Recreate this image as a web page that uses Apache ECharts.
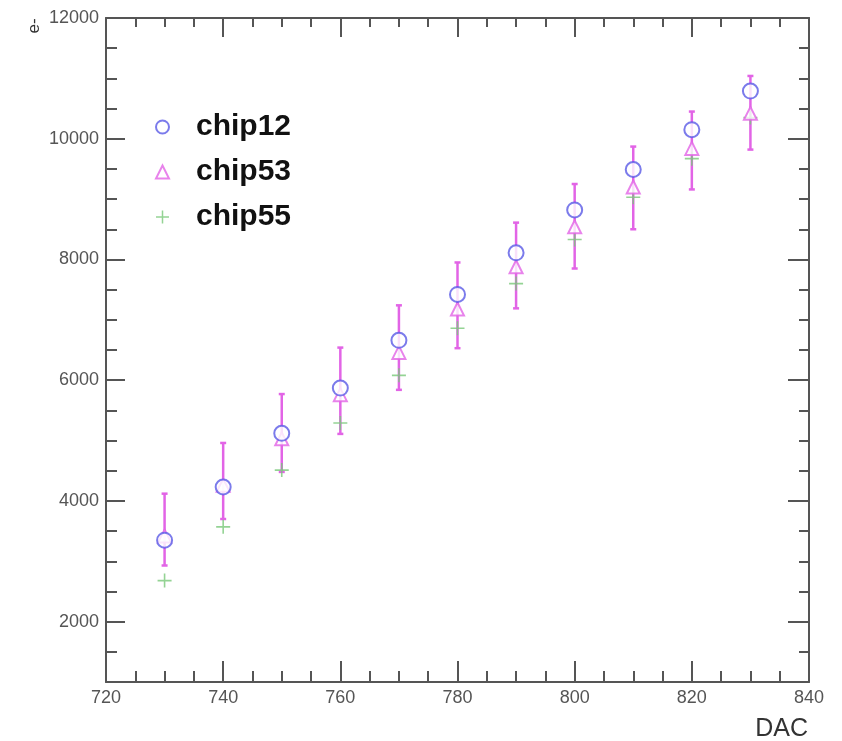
<!DOCTYPE html>
<html>
<head>
<meta charset="utf-8">
<script src="https://cdn.jsdelivr.net/npm/echarts@6/dist/echarts.min.js"></script>
<style>
html,body{margin:0;padding:0;background:#fff;}
#chart{width:842px;height:741px;}
</style>
</head>
<body>
<div id="chart"></div>
<script>
const dac = [730, 740, 750, 760, 770, 780, 790, 800, 810, 820, 830];
const chip12 = [3350, 4230, 5120, 5870, 6660, 7420, 8110, 8820, 9490, 10150, 10790];
const chip53 = [3420, 4260, 5030, 5760, 6460, 7180, 7880, 8540, 9200, 9840, 10420];
const chip53Low = [2930, 3700, 4480, 5110, 5840, 6530, 7190, 7850, 8500, 9160, 9820];
const chip53High = [4120, 4960, 5770, 6540, 7240, 7950, 8610, 9250, 9870, 10450, 11040];
const chip55 = [2680, 3570, 4510, 5290, 6080, 6860, 7600, 8330, 9030, 9670, 10350];
const xTicks = [720, 740, 760, 780, 800, 820, 840];
const yTicks = [2000, 4000, 6000, 8000, 10000, 12000];

const axisColor = '#555';
const labelColor = '#555';
const blue = '#5a5ae6';
const magenta = '#e264e6';
const green = '#79c879';
const fontFam = 'Liberation Sans, Arial, sans-serif';
const plusPath = 'path://M0,6.2L14,6.2L14,7.8L0,7.8Z M6.2,0L7.8,0L7.8,14L6.2,14Z';

const chart = echarts.init(document.getElementById('chart'), null, {renderer: 'canvas'});

function baseX(show, pos) {
  return {
    type: 'value', min: 720, max: 840, interval: 20, position: pos,
    axisLine: {show: true, onZero: false, lineStyle: {color: axisColor, width: 2}},
    axisTick: {show: true, inside: true, length: show ? 21 : 19, lineStyle: {color: axisColor, width: 2}},
    minorTick: {show: true, splitNumber: 4, length: show ? 11 : 9, lineStyle: {color: axisColor, width: 2}},
    splitLine: {show: false},
    axisLabel: {show: show, color: labelColor, fontSize: 18, fontFamily: fontFam, margin: 7,
      formatter: v => xTicks.includes(v) ? String(v) : ''}
  };
}
function majorY(show, pos) {
  return {
    type: 'value', min: 1000, max: 12000, position: pos,
    axisLine: {show: true, onZero: false, lineStyle: {color: axisColor, width: 2}},
    axisTick: {show: true, inside: true, length: show ? 19 : 21, customValues: yTicks, lineStyle: {color: axisColor, width: 2}},
    minorTick: {show: false},
    splitLine: {show: false},
    axisLabel: {show: show, color: labelColor, fontSize: 18, fontFamily: fontFam, margin: 7, customValues: yTicks,
      formatter: v => String(v)}
  };
}
function minorY(pos) {
  return {
    type: 'value', min: 1000, max: 12000, interval: 500, position: pos, offset: 0,
    axisLine: {show: false, onZero: false},
    axisTick: {show: true, inside: true, length: pos === 'left' ? 11 : 10, lineStyle: {color: axisColor, width: 2}},
    minorTick: {show: false},
    splitLine: {show: false},
    axisLabel: {show: false}
  };
}

const option = {
  animation: false,
  backgroundColor: '#fff',
  grid: {left: 106, right: 33, top: 18, bottom: 59, containLabel: false},
  xAxis: [baseX(true, 'bottom'), baseX(false, 'top')],
  yAxis: [majorY(true, 'left'), minorY('left'), majorY(false, 'right'), minorY('right')],
  legend: {
    orient: 'vertical', left: 150, top: 104,
    itemWidth: 13, itemHeight: 13, itemGap: 9,
    data: ['chip12', 'chip53', 'chip55'],
    textStyle: {fontSize: 30, fontWeight: 'bold', color: '#111', fontFamily: fontFam,
      lineHeight: 36, padding: [0, 0, 0, 22]}
  },
  graphic: [
    {type: 'text', x: 34, y: 26, rotation: Math.PI / 2,
      style: {text: 'e-', fontSize: 17, fill: '#333', fontFamily: fontFam, align: 'center', verticalAlign: 'middle'}},
    {type: 'text', x: 808, y: 729,
      style: {text: 'DAC', fontSize: 25, fill: '#333', fontFamily: fontFam, align: 'right', verticalAlign: 'middle'}}
  ],
  series: [
    {
      name: 'chip53 errors', type: 'custom', xAxisIndex: 0, yAxisIndex: 0, z: 1,
      data: dac.map((x, i) => [x, chip53Low[i], chip53High[i]]),
      renderItem: function (params, api) {
        const x = api.value(0);
        const top = api.coord([x, api.value(2)]);
        const bot = api.coord([x, api.value(1)]);
        const st = {stroke: magenta, lineWidth: 2.5};
        return {type: 'group', children: [
          {type: 'line', shape: {x1: top[0], y1: top[1], x2: bot[0], y2: bot[1]}, style: st},
          {type: 'line', shape: {x1: top[0] - 3, y1: top[1], x2: top[0] + 3, y2: top[1]}, style: st},
          {type: 'line', shape: {x1: bot[0] - 3, y1: bot[1], x2: bot[0] + 3, y2: bot[1]}, style: st}
        ]};
      }
    },
    {
      name: 'chip55', type: 'scatter', z: 2, xAxisIndex: 0, yAxisIndex: 0,
      data: dac.map((x, i) => [x, chip55[i]]),
      symbol: plusPath, symbolSize: 14,
      itemStyle: {color: green, borderWidth: 0}
    },
    {
      name: 'chip53', type: 'scatter', z: 3, xAxisIndex: 0, yAxisIndex: 0,
      data: dac.map((x, i) => [x, chip53[i]]),
      symbol: 'emptyTriangle', symbolSize: 13,
      itemStyle: {color: magenta, borderColor: magenta, borderWidth: 1.6}
    },
    {
      name: 'chip12', type: 'scatter', z: 4, xAxisIndex: 0, yAxisIndex: 0,
      data: dac.map((x, i) => [x, chip12[i]]),
      symbol: 'emptyCircle', symbolSize: 15,
      itemStyle: {color: blue, borderColor: blue, borderWidth: 1.8}
    }
  ]
};
chart.setOption(option);
</script>
</body>
</html>
